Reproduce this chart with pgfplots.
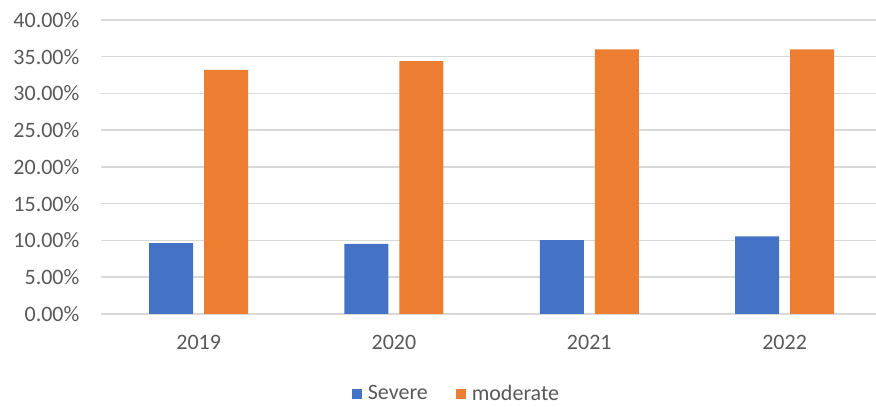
\documentclass[border=0pt]{standalone}
\usepackage{pgfplots}
\pgfplotsset{compat=1.18}
\usepackage{fontspec}
\setmainfont{Carlito}
\definecolor{sevblue}{HTML}{4472C4}
\definecolor{modorange}{HTML}{ED7D31}
\definecolor{gridgray}{HTML}{D9D9D9}
\definecolor{textgray}{HTML}{595959}
\begin{document}
\begin{tikzpicture}
\begin{axis}[
  name=main,
  scale only axis, width=387.5pt, height=147pt,
  xmin=-0.5, xmax=3.468, ymin=0, ymax=40,
  ybar, bar width=22pt,
  xtick={0,1,2,3}, xticklabels={2019,2020,2021,2022},
  ytick={0,5,...,40},
  yticklabel={\pgfmathprintnumber[fixed,fixed zerofill,precision=2]{\tick}\%},
  /pgf/number format/assume math mode=true,
  ymajorgrids, grid style={gridgray, line width=0.75pt},
  axis line style={draw=none},
  major tick length=0pt,
  tick label style={font=\fontsize{11}{13}\selectfont, text=textgray},
  yticklabel style={xshift=-7.3pt},
  xticklabel style={yshift=-7.3pt},
  legend columns=2,
  legend style={at={(0.46,-0.272)}, anchor=center, draw=none, fill=none,
    font=\fontsize{11}{13}\selectfont, text=textgray,
    /tikz/every even column/.style={column sep=12pt}},
  legend image code/.code={\fill[#1] (0pt,-2.5pt) rectangle (5pt,2.5pt); \path (6pt,0pt);},
]
% Severe share per year
\addplot[fill=sevblue, draw=none, bar shift=-13.75pt]
  coordinates {(0,9.65) (1,9.55) (2,10.05) (3,10.55)};
\addlegendentry{Severe}
% Moderate share per year
\addplot[fill=modorange, draw=none, bar shift=13.75pt]
  coordinates {(0,33.2) (1,34.4) (2,36.0) (3,36.0)};
\addlegendentry{moderate}
\end{axis}
\pgfresetboundingbox
\path ([shift={(-50.5pt,-46pt)}]main.south west) rectangle ([shift={(387.5pt,157pt)}]main.south west);
\end{tikzpicture}
\end{document}
